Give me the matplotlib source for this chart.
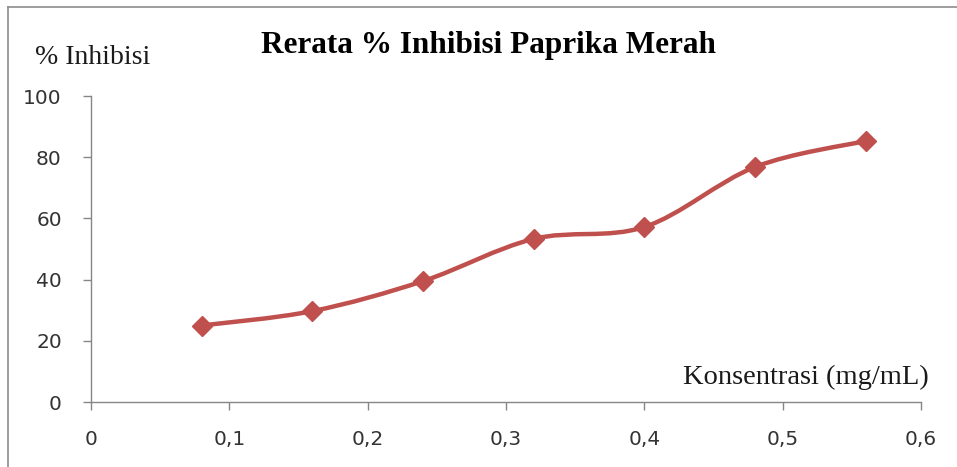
import numpy as np
import matplotlib
matplotlib.use("Agg")
import matplotlib.pyplot as plt
from matplotlib.path import Path
from matplotlib.patches import PathPatch
from matplotlib.ticker import FuncFormatter

# data
konsentrasi = [0.08, 0.16, 0.24, 0.32, 0.40, 0.48, 0.56]
inhibisi = [25.0, 29.7, 39.5, 53.3, 57.2, 76.8, 85.3]

title = "Rerata % Inhibisi Paprika Merah"
ylabel = "% Inhibisi"
xlabel = "Konsentrasi (mg/mL)"

red = "#C0504D"
axis_gray = "#868686"

fig = plt.figure(figsize=(9.57, 4.67), dpi=100)
ax = fig.add_axes([91/957, 1-402/467, 830/957, 306/467])


def smooth_path(x, y):
    # Excel-like smoothed line: cubic bezier, catmull-rom style control points
    x = np.asarray(x); y = np.asarray(y)
    verts = [(x[0], y[0])]
    codes = [Path.MOVETO]
    n = len(x)
    for i in range(n - 1):
        p0 = np.array([x[max(i-1, 0)], y[max(i-1, 0)]])
        p1 = np.array([x[i], y[i]])
        p2 = np.array([x[i+1], y[i+1]])
        p3 = np.array([x[min(i+2, n-1)], y[min(i+2, n-1)]])
        c1 = p1 + (p2 - p0) / 6.0
        c2 = p2 - (p3 - p1) / 6.0
        verts += [tuple(c1), tuple(c2), tuple(p2)]
        codes += [Path.CURVE4] * 3
    return Path(verts, codes)


ax.add_patch(PathPatch(smooth_path(konsentrasi, inhibisi), facecolor="none",
                       edgecolor=red, lw=3.2, capstyle="round", joinstyle="round"))
ax.plot(konsentrasi, inhibisi, linestyle="none", marker="D", color=red,
        markersize=10, zorder=3)

ax.set_xlim(0, 0.6)
ax.set_ylim(0, 100)
ax.set_xticks(np.arange(0, 0.61, 0.1))
ax.set_yticks(np.arange(0, 101, 20))
ax.xaxis.set_major_formatter(FuncFormatter(lambda v, p: ("%g" % round(v, 1)).replace(".", ",")))

for s in ["top", "right"]:
    ax.spines[s].set_visible(False)
for s in ["left", "bottom"]:
    ax.spines[s].set_color(axis_gray)
    ax.spines[s].set_linewidth(1.0)
ax.tick_params(axis="both", direction="out", length=6, width=1.0, color=axis_gray,
               labelsize=14.5, labelcolor="#333333", labelfontfamily="DejaVu Sans")
ax.tick_params(axis="x", pad=14)
ax.tick_params(axis="y", pad=15)

fig.text(488/957, 1-46/467, title, ha="center", va="center",
         fontfamily="Liberation Serif", fontweight="bold", fontsize=22.5)
fig.text(35/957, 1-58/467, ylabel, ha="left", va="center",
         fontfamily="Liberation Serif", fontsize=20, color="#1a1a1a")
fig.text(929/957, 1-377/467, xlabel, ha="right", va="center",
         fontfamily="Liberation Serif", fontsize=20.5, color="#1a1a1a")

# outer chart frame (only left and top edges visible in the crop)
fig.add_artist(plt.Line2D([8/957, 8/957], [0, 1-7/467], transform=fig.transFigure,
                          color="#8c8c8c", lw=1.2))
fig.add_artist(plt.Line2D([8/957, 1], [1-7/467, 1-7/467], transform=fig.transFigure,
                          color="#8c8c8c", lw=1.2))

fig.savefig("out.png", dpi=100)
